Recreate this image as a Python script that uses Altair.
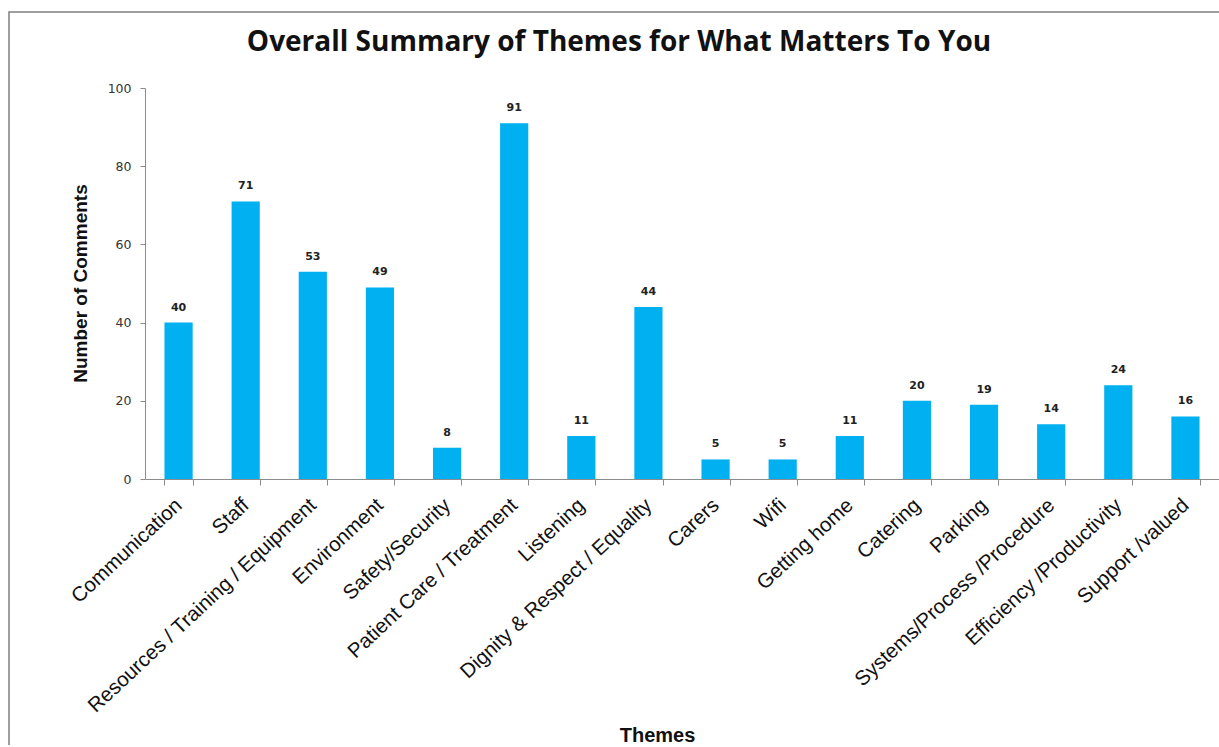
import altair as alt
import pandas as pd

themes = [
    "Communication", "Staff", "Resources / Training / Equipment", "Environment",
    "Safety/Security", "Patient Care / Treatment", "Listening",
    "Dignity & Respect / Equality", "Carers", "Wifi", "Getting home",
    "Catering", "Parking", "Systems/Process /Procedure",
    "Efficiency /Productivity", "Support /valued",
]
comments = [40, 71, 53, 49, 8, 91, 11, 44, 5, 5, 11, 20, 19, 14, 24, 16]
chart_title = "Overall Summary of Themes for What Matters To You"

df = pd.DataFrame({"Theme": themes, "Comments": comments})

BAR = "#00B0F0"
AXIS = "#8c8c8c"

x_enc = alt.X(
    "Theme:N", sort=themes,
    scale=alt.Scale(paddingInner=0.58, paddingOuter=0.29),
    axis=alt.Axis(
        title="Themes", titleFont="Liberation Sans", titleFontSize=20,
        titleFontWeight="bold", titleColor="#111", titleX=512, titleY=256,
        titleBaseline="middle", titleAlign="center",
        labelAngle=-43, labelAlign="right", labelBaseline="middle",
        labelFont="Liberation Sans", labelFontSize=20.5, labelColor="#111",
        labelPadding=17, tickBand="extent", tickSize=6, tickColor=AXIS,
        domainColor=AXIS, labelLimit=0,
    ),
)
y_enc = alt.Y(
    "Comments:Q", scale=alt.Scale(domain=[0, 100]),
    axis=alt.Axis(
        title="Number of Comments", titleFont="Liberation Sans", titleFontSize=19,
        titleFontWeight="bold", titleColor="#111", titleX=-65, titleY=195,
        titleAngle=-90, titleAlign="center", titleBaseline="middle",
        values=[0, 20, 40, 60, 80, 100], labelFont="DejaVu Sans",
        labelFontSize=12.5, labelColor="#333", labelPadding=9,
        tickSize=5, tickColor=AXIS, domainColor=AXIS, grid=False,
    ),
)

one = alt.datum.Theme == themes[0]

frame = alt.Chart(df).mark_rect(fill="transparent", stroke="#7f7f7f", strokeWidth=1.5).encode(
    x=alt.value(-136), x2=alt.value(1200), y=alt.value(-76), y2=alt.value(800)
).transform_filter(one)

title = alt.Chart(df).mark_text(
    text=chart_title, font="Open Sans", fontSize=28, fontWeight="bold",
    color="#111", align="center", baseline="middle",
).encode(x=alt.value(474), y=alt.value(-45)).transform_filter(one)

bars = alt.Chart(df).mark_bar(color=BAR).encode(x=x_enc, y=y_enc)

labels = alt.Chart(df).mark_text(
    font="DejaVu Sans", fontSize=11, fontWeight="bold", color="#222",
    baseline="bottom", dy=-10,
).encode(x=alt.X("Theme:N", sort=themes), y="Comments:Q", text="Comments:Q")

chart = alt.layer(frame, bars, labels, title).properties(
    width=1074, height=391,
    autosize=alt.AutoSizeParams(type="none"),
    padding={"left": 145, "top": 88, "right": 0, "bottom": 266},
).configure_view(stroke=None)

chart.save("out.html", embed_options={"renderer": "svg", "actions": False})
